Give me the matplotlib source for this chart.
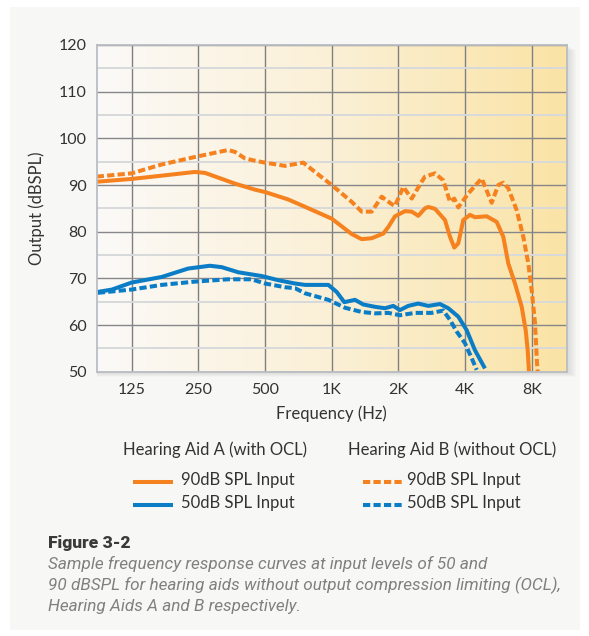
import numpy as np
import matplotlib
matplotlib.use('Agg')
import matplotlib.pyplot as plt
from matplotlib.colors import LinearSegmentedColormap
from matplotlib.lines import Line2D
from matplotlib.patches import Rectangle
from matplotlib.ticker import NullLocator

# Hearing Aid A (with OCL), 90 dB SPL input
freq_a90 = [87, 125, 171, 241, 268, 366, 451, 500, 637, 744, 1000, 1231, 1366, 1516,
            1710, 1801, 1931, 2142, 2297, 2459, 2637, 2729, 2926, 3246, 3420, 3576,
            3727, 3926, 4208, 4433, 5007, 5556, 5951, 6268, 6718, 7205, 7510, 7668, 7771]
out_a90 = [90.7, 91.3, 92.0, 92.8, 92.6, 90.3, 89.0, 88.5, 86.9, 85.5, 82.8, 79.5, 78.4, 78.6,
           79.6, 81.0, 83.3, 84.4, 84.3, 83.4, 85.0, 85.3, 84.9, 82.5, 78.9, 76.6,
           77.5, 82.5, 83.6, 83.1, 83.3, 82.1, 78.9, 73.2, 68.9, 63.9, 58.9, 54.6, 50.0]

# Hearing Aid B (without OCL), 90 dB SPL input
freq_b90 = [87, 125, 171, 241, 341, 366, 406, 451, 500, 616, 744, 841, 1000, 1231, 1366,
            1516, 1682, 1866, 1931, 2104, 2297, 2548, 2637, 2926, 3189, 3420, 3576,
            3727, 4136, 4753, 5275, 5650, 5951, 6268, 6840, 7326, 7716, 7992, 8273, 8447, 8506]
out_b90 = [91.8, 92.5, 94.4, 96.0, 97.5, 97.1, 95.7, 95.2, 94.8, 94.1, 94.8, 92.8, 90.0, 86.4, 84.3,
           84.3, 87.5, 85.9, 85.5, 89.6, 87.1, 90.7, 91.8, 92.5, 91.0, 86.4, 87.1,
           85.2, 88.2, 91.4, 86.2, 90.0, 90.5, 89.3, 84.6, 78.9, 73.2, 67.5, 60.4, 51.8, 50.0]

# Hearing Aid A (with OCL), 50 dB SPL input
freq_a50 = [88, 102, 125, 171, 225, 282, 319, 379, 483, 574, 683, 758, 966, 1053, 1140,
            1274, 1389, 1569, 1741, 1897, 2033, 2216, 2459, 2729, 3082, 3360, 3727,
            4067, 4433, 4918]
out_a50 = [67.1, 67.6, 69.1, 70.3, 72.1, 72.7, 72.4, 71.3, 70.5, 69.6, 68.9, 68.6, 68.6, 67.1, 64.9,
           65.4, 64.4, 63.9, 63.6, 64.1, 63.2, 64.1, 64.6, 64.1, 64.5, 63.6, 61.8,
           58.9, 54.6, 50.7]

# Hearing Aid B (without OCL), 50 dB SPL input
freq_b50 = [88, 125, 171, 241, 341, 435, 500, 616, 683, 758, 966, 1149, 1366, 1569, 1801,
            2033, 2377, 2827, 3189, 3420, 3666, 3996, 4284, 4513]
out_b50 = [66.9, 67.6, 68.6, 69.3, 69.8, 69.8, 68.9, 68.1, 67.9, 66.8, 65.4, 63.7, 62.8, 62.5, 62.6,
           62.1, 62.6, 62.6, 63.1, 61.1, 58.6, 56.1, 52.9, 50.4]

xticks = [125, 250, 500, 1000, 2000, 4000, 8000]
xtick_labels = ['125', '250', '500', '1K', '2K', '4K', '8K']
yticks = [50, 60, 70, 80, 90, 100, 110, 120]

ORANGE = '#f5821f'
BLUE = '#0b7dc6'
TEXT = '#333333'

W, H = 589, 636
fig = plt.figure(figsize=(W / 100, H / 100), dpi=100)
fig.patch.set_facecolor('white')


def fx(x):
    return x / W


def fy(y):
    return 1 - y / H


# light grey panel behind everything
fig.patches.append(Rectangle((fx(10), fy(630)), 570 / W, 623 / H, transform=fig.transFigure,
                             facecolor='#f7f7f5', edgecolor='none', zorder=-3))

left, top, right, bottom = 96.7, 45, 566.7, 371.7
rect = [fx(left), fy(bottom), (right - left) / W, (bottom - top) / H]

# soft drop shadow on the right/bottom of the plot frame
for k in range(1, 10):
    fig.patches.append(Rectangle((fx(left), fy(bottom + k * 0.6)), (right - left + k) / W,
                                 (bottom - top) / H, transform=fig.transFigure,
                                 facecolor='#707070', edgecolor='none', alpha=0.025, zorder=-2))

# gradient fill
bg = fig.add_axes(rect, zorder=0)
cmap = LinearSegmentedColormap.from_list('warm', ['#fbfaf8', '#fbf0d6', '#fae3a5'])
bg.imshow(np.linspace(0, 1, 256).reshape(1, -1), cmap=cmap, aspect='auto',
          extent=[0, 1, 0, 1], interpolation='bilinear')
bg.axis('off')

ax = fig.add_axes(rect, zorder=1)
ax.patch.set_alpha(0)
ax.set_xscale('log')
ax.set_xlim(87, 11500)
ax.set_ylim(50, 120)

ax.set_xticks(xticks)
ax.set_xticklabels(xtick_labels)
ax.xaxis.set_minor_locator(NullLocator())
ax.set_yticks(yticks)
ax.set_yticks(np.arange(55, 120, 10), minor=True)
ax.tick_params(which='both', length=0)
ax.tick_params(axis='x', pad=8)
ax.tick_params(axis='y', pad=7)
for lab in ax.get_xticklabels() + ax.get_yticklabels():
    lab.set_fontfamily('Lato')
    lab.set_fontsize(11.5)
    lab.set_color(TEXT)

ax.grid(True, which='major', axis='x', color='#7e8082', lw=1.0)
ax.grid(True, which='major', axis='y', color='#85878a', lw=1.0)
ax.grid(True, which='minor', axis='y', color='#d8d9db', lw=1.4)
ax.set_axisbelow(True)
for sp in ax.spines.values():
    sp.set_color('#b9bdc3')
    sp.set_linewidth(1.3)

lw = 2.9
dash = (0, (1.8, 0.8))
ax.plot(freq_a90, out_a90, color=ORANGE, lw=lw, solid_joinstyle='round', solid_capstyle='butt')
ax.plot(freq_b90, out_b90, color=ORANGE, lw=lw, ls=dash, dash_capstyle='butt')
ax.plot(freq_a50, out_a50, color=BLUE, lw=lw, solid_joinstyle='round', solid_capstyle='butt')
ax.plot(freq_b50, out_b50, color=BLUE, lw=lw, ls=dash, dash_capstyle='butt')

ax.set_xlabel('Frequency (Hz)', fontfamily='Lato', fontsize=12, color=TEXT, labelpad=6)
ax.set_ylabel('Output (dBSPL)', fontfamily='Lato', fontsize=12, color=TEXT, labelpad=10)

# legend, laid out in two columns below the chart
fig.text(fx(215), fy(450), 'Hearing Aid A (with OCL)', ha='center', va='center',
         family='Lato', fontsize=12, color=TEXT)
fig.text(fx(452), fy(450), 'Hearing Aid B (without OCL)', ha='center', va='center',
         family='Lato', fontsize=12, color=TEXT)

entries = [
    (132.7, 173.3, 180.7, 480, ORANGE, '-', '90dB SPL Input'),
    (132.7, 173.3, 180.7, 503, BLUE, '-', '50dB SPL Input'),
    (363.0, 402.7, 406.7, 480, ORANGE, dash, '90dB SPL Input'),
    (363.0, 402.7, 406.7, 503, BLUE, dash, '50dB SPL Input'),
]
for x0, x1, xt, y, c, ls, label in entries:
    fig.add_artist(Line2D([fx(x0), fx(x1)], [fy(y + 1.5), fy(y + 1.5)], transform=fig.transFigure,
                          color=c, lw=lw, ls=ls, dash_capstyle='butt', solid_capstyle='butt'))
    fig.text(fx(xt), fy(y), label, ha='left', va='center', family='Lato',
             fontsize=12, color=TEXT)

# caption
fig.text(fx(48), fy(543), 'Figure 3-2', ha='left', va='center', family='Roboto',
         fontweight='heavy', fontsize=12.5, color='#3a3a3a')
caption = ['Sample frequency response curves at input levels of 50 and',
           '90 dBSPL for hearing aids without output compression limiting (OCL),',
           'Hearing Aids A and B respectively.']
for i, line in enumerate(caption):
    fig.text(fx(48), fy(564 + i * 21), line, ha='left', va='center', family='Roboto',
             style='italic', fontsize=12.3, color='#808080')

fig.savefig('out.png', dpi=100)
